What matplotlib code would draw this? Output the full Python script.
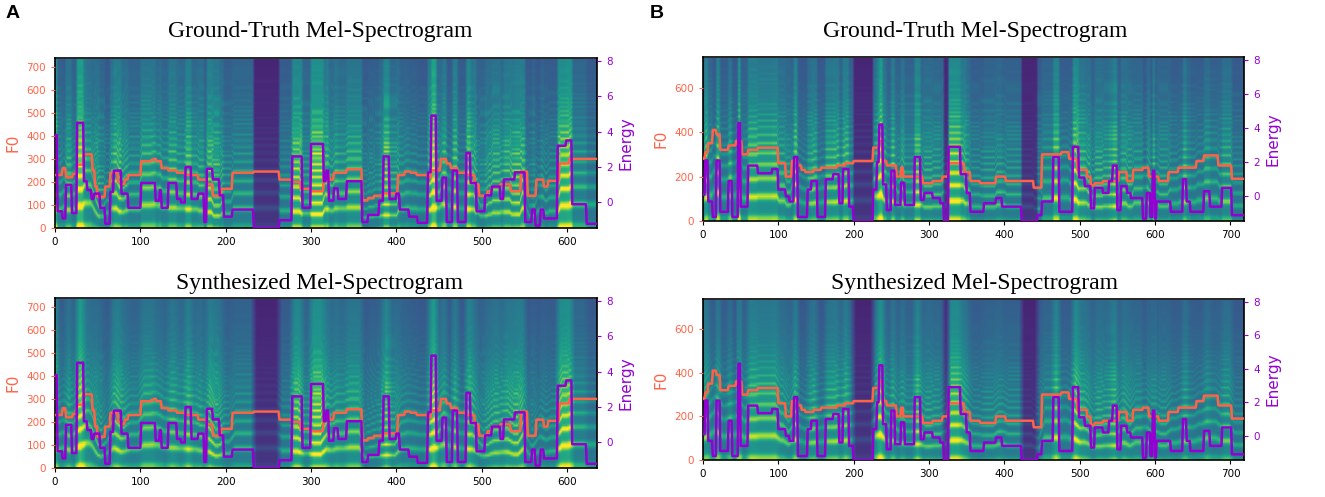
import numpy as np
import matplotlib
matplotlib.use("Agg")
import matplotlib.pyplot as plt
from matplotlib.ticker import MultipleLocator

# ---- step data: (start frame, value) per segment ----
n_frames_a = 635
f0_a_starts = [0, 9, 13, 21, 26, 34, 44, 47, 50, 59, 65, 74, 78, 82, 86, 101, 113, 116, 119, 125,
               133, 143, 153, 168, 178, 185, 195, 208, 233, 263, 278, 288, 300, 315, 322, 327, 342, 360, 367, 374,
               384, 402, 410, 417, 424, 437, 441, 452, 459, 464, 472, 482, 492, 497, 507, 512, 522, 534, 546, 554,
               564, 573, 578, 591, 603]
f0_a_vals = [230, 260, 220, 235, 275, 320, 250, 180, 135, 180, 240, 200, 190, 210, 230, 290, 295, 300, 290, 260,
             250, 240, 230, 210, 190, 140, 170, 240, 245, 210, 200, 170, 160, 230, 210, 240, 255, 120, 130, 140,
             150, 230, 245, 240, 230, 220, 250, 300, 280, 260, 240, 230, 190, 140, 160, 180, 190, 160, 245, 140,
             210, 180, 205, 280, 300]

en_a_starts = [0, 3, 9, 13, 20, 26, 34, 38, 43, 46, 53, 59, 65, 69, 78, 86, 101, 118, 123, 125,
               133, 143, 148, 153, 160, 168, 175, 178, 185, 193, 198, 208, 233, 263, 278, 290, 300, 315, 318, 321,
               327, 332, 342, 360, 367, 380, 385, 392, 400, 404, 415, 425, 437, 441, 447, 454, 459, 466, 472, 482,
               487, 494, 504, 512, 522, 526, 539, 551, 559, 563, 569, 573, 589, 599, 606, 623]
en_a_vals = [3.8, -0.5, -0.9, 1.0, -0.6, 4.5, 1.2, 0.7, 0.2, 0.5, -0.3, -1.2, 0.6, 1.8, 0.5, -0.3, 1.1, 0.1, 0.7, -0.3,
             1.1, 0.2, 0.0, 2.0, 0.2, 0.5, -1.1, 1.9, 1.3, 0.4, -0.8, -0.4, -1.44, -1.0, 2.6, -0.3, 3.3, 1.2, 1.8, 0.1,
             0.8, 0.2, 1.2, -1.1, -0.7, 0.1, 2.6, 0.2, 0.5, -0.4, -0.8, -1.15, 1.7, 4.9, 0.1, 1.4, -1.1, 1.8, -1.1, 2.8,
             1.1, -0.5, 0.4, 0.9, 0.2, 1.3, 1.7, -1.1, -0.4, -1.3, -0.4, -0.9, 3.2, 3.5, -0.1, -1.2]

n_frames_b = 718
f0_b_starts = [0, 3, 7, 13, 18, 23, 34, 44, 52, 60, 73, 100, 110, 118, 126, 131, 136, 147, 157, 178,
               189, 200, 226, 234, 239, 244, 257, 263, 266, 292, 305, 318, 326, 347, 355, 368, 389, 402, 439, 450,
               476, 486, 497, 510, 515, 520, 531, 552, 563, 571, 584, 592, 605, 618, 631, 655, 665, 684, 702]
f0_b_vals = [280, 310, 350, 410, 390, 320, 340, 360, 300, 320, 330, 260, 200, 270, 250, 230, 220, 230, 240, 250,
             260, 270, 330, 360, 270, 250, 200, 240, 200, 170, 180, 200, 260, 220, 180, 170, 200, 180, 150, 300,
             310, 280, 230, 200, 160, 170, 180, 220, 180, 230, 240, 200, 180, 220, 240, 270, 295, 250, 190]

en_b_starts = [0, 3, 7, 13, 18, 23, 34, 39, 47, 50, 60, 73, 92, 100, 110, 115, 121, 126, 139, 144,
               152, 163, 173, 181, 186, 194, 200, 226, 231, 234, 239, 244, 250, 255, 263, 268, 281, 289, 294, 305,
               315, 320, 326, 342, 350, 355, 373, 389, 397, 423, 444, 450, 465, 473, 491, 499, 507, 515, 520, 531,
               539, 544, 550, 555, 563, 568, 584, 589, 594, 597, 600, 602, 621, 637, 642, 647, 665, 673, 689, 702]
en_b_vals = [0.1, 2.1, -0.3, -1.2, 2.1, -0.9, 0.9, -1.2, 4.3, -0.6, 1.8, 1.35, 1.6, 0.4, 0.0, -0.3, 2.3, -1.2, 0.4, 0.9,
             -1.2, 1.0, 1.3, -0.4, 1.6, -0.6, -1.44, 0.4, 2.0, 4.2, 0.7, -0.8, 1.5, -0.5, 0.8, -0.5, 2.3, -0.2, 0.2, -0.1,
             -0.4, -1.44, 2.9, 1.3, 0.2, -0.9, -0.4, -0.1, -0.6, -1.44, -1.1, -0.3, 2.3, -0.9, 2.9, 1.1, 0.6, -0.7, 0.5, 0.2,
             0.9, 1.8, -0.8, 0.6, 0.2, -0.1, -1.3, 0.2, -1.2, 1.5, -1.3, -0.3, -0.9, 1.0, -0.3, -0.9, 0.3, -0.6, 0.5, -1.1]

F0_MAX = 738
E_LO, E_HI = -1.44, 8.15
N_MELS = 80


def expand(starts, vals, n):
    lens = np.diff(list(starts) + [n])
    return np.repeat(np.asarray(vals, float), lens)


def box_smooth(x, k):
    if k <= 1:
        return x
    pad = np.pad(x, k // 2, mode="edge")
    return np.convolve(pad, np.ones(k) / k, mode="valid")[:len(x)]


def mel_image(f0, energy, synth=False):
    # mel-like picture built from the F0 / energy traces
    mel_top = 2595 * np.log10(1 + 8000 / 700)
    fb = 700 * (10 ** (np.linspace(0, mel_top, N_MELS) / 2595) - 1)
    k = 7 if synth else 3
    en = np.clip((energy - E_LO) / (4.9 - E_LO), 0, 1)
    en_s = box_smooth(en, k)
    f0_s = box_smooth(f0, k)
    rows = np.arange(N_MELS)[:, None] / (N_MELS - 1)
    comb = (0.5 + 0.5 * np.cos(2 * np.pi * fb[:, None] / f0_s[None, :])) ** 3
    low = np.exp(-fb[:, None] / (1600 if synth else 2200))
    band = np.exp(-((rows - 0.45) / 0.18) ** 2)
    img = 0.38 + 0.30 * en_s[None, :] - 0.12 * rows + 0.14 * band * en_s[None, :]
    img = img + 0.55 * comb * low * (0.45 + en_s[None, :])
    img[:2] -= 0.1
    silent = box_smooth((energy <= E_LO + 0.05).astype(float), k)
    img = img * (1 - 0.6 * silent[None, :])
    return np.clip(img, 0, 1)


W, H = 1325, 497


def px_box(l, t, r, b):
    return [l / W, 1 - b / H, (r - l) / W, (b - t) / H]


def draw_panel(fig, rect, f0, energy, synth, f0_step):
    n = len(f0)
    ax = fig.add_axes(rect)
    ax.imshow(mel_image(f0, energy, synth), origin="lower", aspect="auto",
              cmap="viridis", vmin=0, vmax=1, interpolation="bilinear")
    ax.set_ylim(0, N_MELS)
    ax.set_xlim(0, n)
    ax.tick_params(labelsize=7.5, left=False, labelleft=False, length=3)
    for s in ax.spines.values():
        s.set_linewidth(1.2)

    ax1 = fig.add_axes(rect, facecolor="None")
    ax1.plot(np.arange(n), f0, color="tomato", lw=1.8)
    ax1.set_xlim(0, n)
    ax1.set_ylim(0, F0_MAX)
    ax1.yaxis.set_major_locator(MultipleLocator(f0_step))
    ax1.set_ylabel("F0", color="tomato", fontsize=11)
    ax1.tick_params(labelsize=7.5, colors="tomato", bottom=False, labelbottom=False, length=3)
    ax1.spines[:].set_visible(False)

    ax2 = fig.add_axes(rect, facecolor="None")
    ax2.plot(np.arange(n), energy, color="darkviolet", lw=1.8)
    ax2.set_xlim(0, n)
    ax2.set_ylim(E_LO, E_HI)
    ax2.yaxis.set_major_locator(MultipleLocator(2))
    ax2.set_ylabel("Energy", color="darkviolet", fontsize=11)
    ax2.yaxis.set_label_position("right")
    ax2.tick_params(labelsize=7.5, colors="darkviolet", bottom=False, labelbottom=False,
                    left=False, labelleft=False, right=True, labelright=True, length=3)
    ax2.spines[:].set_visible(False)


f0_a = expand(f0_a_starts, f0_a_vals, n_frames_a)
en_a = expand(en_a_starts, en_a_vals, n_frames_a)
f0_b = expand(f0_b_starts, f0_b_vals, n_frames_b)
en_b = expand(en_b_starts, en_b_vals, n_frames_b)

fig = plt.figure(figsize=(W / 100, H / 100), dpi=100)

draw_panel(fig, px_box(55, 58, 597, 228), f0_a, en_a, False, 100)
draw_panel(fig, px_box(55, 298, 597, 468), f0_a, en_a, True, 100)
draw_panel(fig, px_box(703, 57, 1244, 221), f0_b, en_b, False, 200)
draw_panel(fig, px_box(703, 299, 1244, 460), f0_b, en_b, True, 200)

title_kw = dict(family="Liberation Serif", fontsize=17, ha="center", va="center")
fig.text(320 / W, 1 - 32 / H, "Ground-Truth Mel-Spectrogram", **title_kw)
fig.text(320 / W, 1 - 283 / H, "Synthesized Mel-Spectrogram", **title_kw)
fig.text(975 / W, 1 - 32 / H, "Ground-Truth Mel-Spectrogram", **title_kw)
fig.text(975 / W, 1 - 283 / H, "Synthesized Mel-Spectrogram", **title_kw)

label_kw = dict(family="Liberation Sans", fontsize=14, fontweight="bold", ha="left", va="center")
fig.text(6 / W, 1 - 13 / H, "A", **label_kw)
fig.text(650 / W, 1 - 13 / H, "B", **label_kw)

fig.savefig("out.png", dpi=100)
